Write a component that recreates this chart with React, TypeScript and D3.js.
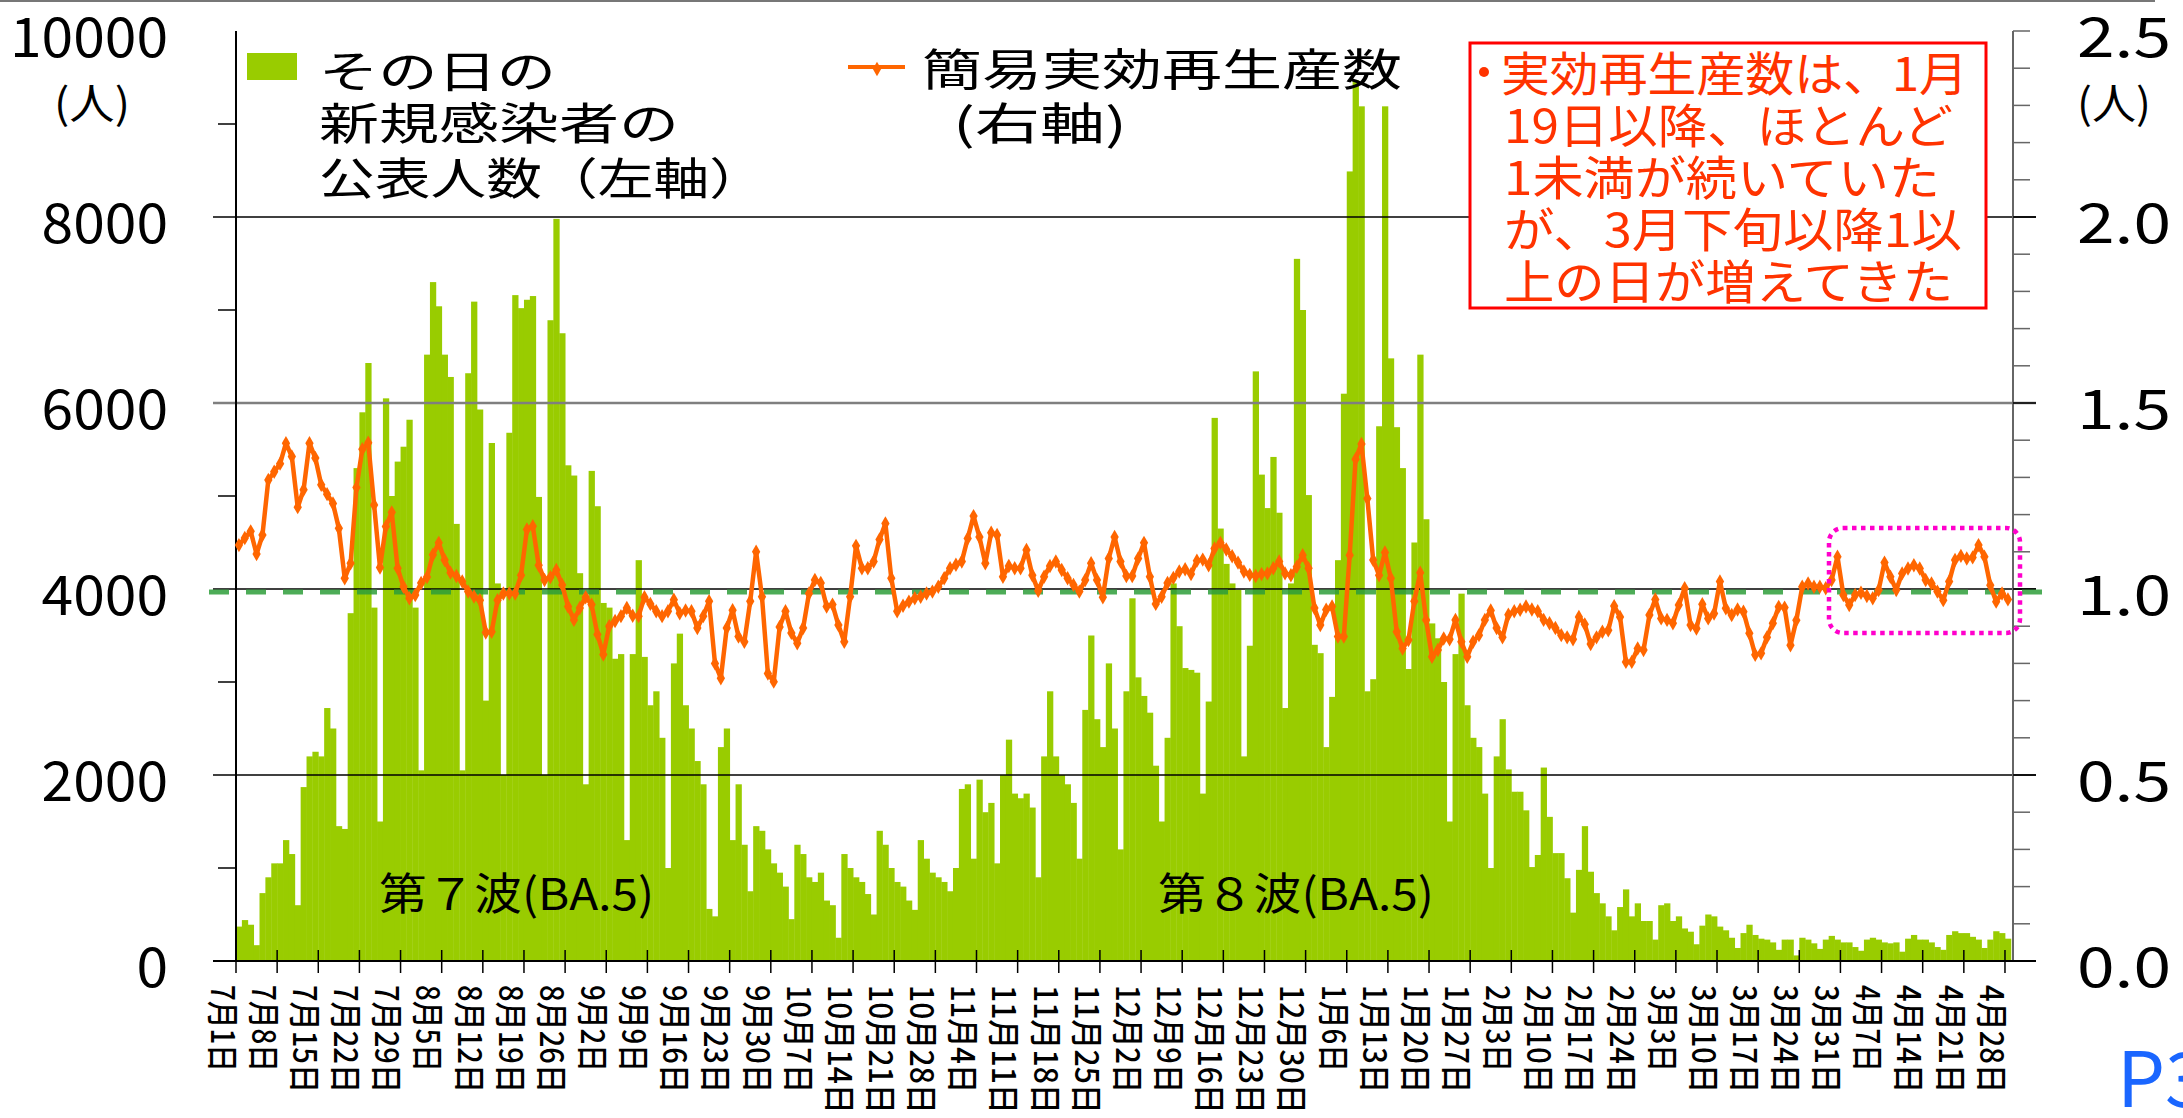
import React from "react";
import * as d3 from "d3";

// daily new cases (left axis), 2022-07-01 .. 2023-04-28
const cases = [
  370, 440, 390, 170, 730, 900, 1050,
  1050, 1300, 1150, 600, 1870, 2200, 2250,
  2200, 2720, 2500, 1450, 1420, 3740, 5300,
  5900, 6430, 3800, 1500, 6050, 5000, 5370,
  5530, 5820, 3800, 2050, 6520, 7300, 7040,
  6520, 6280, 4700, 2050, 6320, 7090, 5930,
  2800, 5570, 4060, 2000, 5680, 7160, 7020,
  7110, 7150, 4990, 2000, 6890, 7980, 6750,
  5330, 5220, 4170, 1900, 5270, 4890, 3850,
  3800, 3250, 3300, 1300, 3300, 4310, 3270,
  2750, 2900, 2400, 1000, 3200, 3520, 2750,
  2500, 2150, 1900, 560, 480, 2300, 2500,
  1300, 1900, 1250, 750, 1450, 1400, 1200,
  1050, 950, 800, 450, 1250, 1150, 900,
  850, 950, 650, 600, 250, 1150, 1000,
  900, 850, 720, 500, 1400, 1250, 1000,
  850, 800, 650, 550, 1300, 1100, 950,
  900, 850, 750, 1000, 1850, 1900, 1100,
  1950, 1600, 1700, 1050, 2000, 2380, 1800,
  1750, 1800, 1650, 900, 2200, 2900, 2200,
  2000, 1900, 1700, 1100, 2700, 3500, 2600,
  2300, 3200, 2500, 1200, 2900, 3900, 3050,
  2850, 2670, 2100, 1500, 2400, 4060, 3600,
  3150, 3130, 3100, 1800, 2790, 5840, 4650,
  4270, 4060, 3990, 2200, 3390, 6340, 5230,
  4870, 5420, 4820, 2720, 4060, 7550, 7000,
  5010, 3400, 3310, 2300, 2840, 4310, 6100,
  8490, 9470, 9190, 2900, 3030, 5750, 9190,
  6480, 5740, 5300, 3140, 4500, 6520, 4750,
  3630, 3470, 3000, 1500, 3300, 3950, 2750,
  2400, 2300, 1800, 1000, 2200, 2600, 2060,
  1820, 1820, 1620, 1010, 1140, 2080, 1550,
  1160, 1160, 890, 520, 980, 1450, 960,
  730, 620, 480, 330, 580, 770, 480,
  620, 430, 430, 230, 600, 620, 430,
  480, 350, 315, 180, 380, 500, 480,
  370, 330, 250, 140, 300, 390, 280,
  240, 230, 200, 120, 230, 230, 60,
  250, 230, 190, 130, 230, 270, 230,
  200, 200, 150, 110, 230, 250, 230,
  200, 190, 200, 100, 240, 280, 230,
  230, 200, 150, 120, 280, 320, 300,
  300, 260, 230, 140, 230, 320, 300,
  240,
];

// simple effective reproduction number (right axis)
const rt = [
  1.118, 1.137, 1.155, 1.094, 1.145, 1.293, 1.315, 1.337, 1.392, 1.356,
  1.22, 1.267, 1.392, 1.352, 1.28, 1.255, 1.23, 1.163, 1.029, 1.069,
  1.273, 1.376, 1.393, 1.226, 1.058, 1.168, 1.206, 1.056, 1.006, 0.975,
  0.984, 1.016, 1.032, 1.092, 1.124, 1.078, 1.044, 1.035, 1.02, 0.993,
  0.98, 0.97, 0.883, 0.885, 0.97, 0.988, 0.988, 0.988, 1.037, 1.16,
  1.169, 1.064, 1.024, 1.032, 1.051, 1.011, 0.953, 0.917, 0.949, 0.978,
  0.958, 0.878, 0.824, 0.9, 0.914, 0.927, 0.949, 0.928, 0.927, 0.978,
  0.96, 0.94, 0.927, 0.94, 0.971, 0.935, 0.942, 0.94, 0.895, 0.927,
  0.967, 0.8, 0.76, 0.895, 0.943, 0.872, 0.858, 0.967, 1.1, 0.979,
  0.773, 0.751, 0.898, 0.94, 0.882, 0.854, 0.895, 0.988, 1.024, 1.016,
  0.953, 0.958, 0.903, 0.858, 0.979, 1.116, 1.056, 1.056, 1.074, 1.133,
  1.176, 1.029, 0.94, 0.955, 0.966, 0.975, 0.979, 0.988, 0.993, 1.006,
  1.029, 1.056, 1.065, 1.074, 1.136, 1.196, 1.14, 1.069, 1.151, 1.145,
  1.033, 1.062, 1.056, 1.056, 1.105, 1.037, 0.995, 1.033, 1.062, 1.074,
  1.051, 1.029, 1.011, 0.993, 1.024, 1.069, 1.024, 0.978, 1.082, 1.14,
  1.074, 1.035, 1.035, 1.082, 1.124, 1.033, 0.96, 0.979, 1.016, 1.03,
  1.047, 1.053, 1.04, 1.076, 1.079, 1.064, 1.109, 1.124, 1.106, 1.088,
  1.071, 1.047, 1.038, 1.035, 1.04, 1.042, 1.056, 1.074, 1.042, 1.037,
  1.06, 1.091, 1.056, 0.949, 0.903, 0.944, 0.953, 0.872, 0.872, 1.091,
  1.349, 1.39, 1.243, 1.078, 1.037, 1.098, 1.029, 0.885, 0.84, 0.863,
  0.967, 1.044, 0.917, 0.818, 0.836, 0.867, 0.865, 0.917, 0.858, 0.818,
  0.858, 0.876, 0.917, 0.942, 0.895, 0.87, 0.931, 0.94, 0.944, 0.953,
  0.945, 0.94, 0.917, 0.908, 0.895, 0.876, 0.87, 0.865, 0.925, 0.905,
  0.852, 0.87, 0.885, 0.889, 0.954, 0.925, 0.804, 0.804, 0.84, 0.836,
  0.93, 0.972, 0.921, 0.917, 0.908, 0.957, 1.002, 0.903, 0.894, 0.959,
  0.921, 0.934, 1.02, 0.948, 0.93, 0.945, 0.939, 0.881, 0.823, 0.827,
  0.87, 0.908, 0.952, 0.95, 0.849, 0.916, 1.006, 1.015, 1.006, 1.006,
  1.002, 1.024, 1.087, 0.984, 0.957, 0.984, 0.99, 0.981, 0.975, 0.997,
  1.071, 1.033, 0.997, 1.042, 1.055, 1.064, 1.055, 1.024, 1.015, 0.993,
  0.97, 1.02, 1.078, 1.089, 1.082, 1.085, 1.118, 1.087, 1.01, 0.966,
  0.988, 0.972,
];

const tickLabels = [
  "7月1日", "7月8日", "7月15日", "7月22日", "7月29日", "8月5日", "8月12日",
  "8月19日", "8月26日", "9月2日", "9月9日", "9月16日", "9月23日", "9月30日",
  "10月7日", "10月14日", "10月21日", "10月28日", "11月4日", "11月11日",
  "11月18日", "11月25日", "12月2日", "12月9日", "12月16日", "12月23日",
  "12月30日", "1月6日", "1月13日", "1月20日", "1月27日", "2月3日", "2月10日",
  "2月17日", "2月24日", "3月3日", "3月10日", "3月17日", "3月24日", "3月31日",
  "4月7日", "4月14日", "4月21日", "4月28日",
];

const leftTicks = [0, 2000, 4000, 6000, 8000, 10000];
const rightTicks = [0, 0.5, 1, 1.5, 2, 2.5];

const noteLines = [
  "実効再生産数は、1月",
  "19日以降、ほとんど",
  "1未満が続いていた",
  "が、3月下旬以降1以",
  "上の日が増えてきた",
];

const FONT = "'Noto Sans CJK JP', 'Noto Sans', sans-serif";
const GREEN = "#99cc00";
const ORANGE = "#ff6600";

export default function App() {
  const W = 2183;
  const H = 1118;
  const left = 236;
  const right = 2013;
  const top = 31;
  const bottom = 961;

  const days = d3.timeDay.range(new Date(2022, 6, 1), new Date(2023, 3, 29));
  const x = d3
    .scaleBand<number>()
    .domain(days.map((d, i) => i))
    .range([left, left + days.length * 5.877])
    .padding(0);
  const bw = x.bandwidth();
  const yL = d3.scaleLinear().domain([0, 10000]).range([bottom, top]);
  const yR = d3.scaleLinear().domain([0, 2.5]).range([bottom, top]);

  const rtLine = d3
    .line<number>()
    .x((d, i) => (x(i) as number) + bw / 2)
    .y((d) => yR(d));
  const diamond = d3.symbol().type(d3.symbolDiamond).size(60)();

  const tickIdx = d3.range(0, days.length, 7);

  const labelLen = (s: string) => {
    const digits = (s.match(/[0-9]/g) || []).length;
    return digits * 21 + (s.length - digits) * 22.5;
  };

  return (
    <svg
      width={W}
      height={H}
      style={{ position: "absolute", left: 0, top: 0, background: "#fff" }}
      fontFamily={FONT}
    >
      <rect x={0} y={0} width={W} height={H} fill="#fff" />
      <line x1={0} x2={2155} y1={1} y2={1} stroke="#777" strokeWidth={2} />

      {/* bars */}
      <g>
        {cases.map((v, i) => (
          <rect
            key={i}
            x={x(i)}
            y={yL(v)}
            width={bw + 0.4}
            height={bottom - yL(v)}
            fill={GREEN}
          />
        ))}
      </g>

      {/* grid lines */}
      {[2000, 4000, 6000, 8000].map((v) => (
        <line
          key={v}
          x1={213}
          x2={2036}
          y1={yL(v)}
          y2={yL(v)}
          stroke={v === 6000 ? "#7f7f7f" : "#000"}
          strokeWidth={v === 6000 ? 2.5 : 1.5}
        />
      ))}

      {/* left axis */}
      <line x1={left} x2={left} y1={top} y2={bottom} stroke="#000" strokeWidth={2} />
      {d3.range(1000, 10000, 2000).map((v) => (
        <line key={v} x1={218} x2={left} y1={yL(v)} y2={yL(v)} stroke="#000" strokeWidth={1.5} />
      ))}
      {leftTicks.map((v) => (
        <text
          key={v}
          x={168}
          y={yL(v) + 2}
          textAnchor="end"
          dominantBaseline="central"
          fontSize={54}
          textLength={String(v).length * 31.6}
          lengthAdjust="spacingAndGlyphs"
        >
          {v}
        </text>
      ))}
      <text x={54} y={100} dominantBaseline="central" fontSize={42} textLength={76} lengthAdjust="spacingAndGlyphs">
        (人)
      </text>

      {/* right axis */}
      <line x1={right} x2={right} y1={top} y2={bottom} stroke="#666" strokeWidth={2} />
      {d3.range(0, 26).map((k) => (
        <line
          key={k}
          x1={right}
          x2={k % 5 === 0 && k > 0 && k < 25 ? 2036 : 2030}
          y1={yR(k / 10)}
          y2={yR(k / 10)}
          stroke={k % 5 === 0 && k > 0 && k < 25 ? "#000" : "#666"}
          strokeWidth={1.5}
        />
      ))}
      {rightTicks.map((v) => (
        <text
          key={v}
          x={2077}
          y={yR(v) + 2}
          dominantBaseline="central"
          fontSize={54}
          textLength={94}
          lengthAdjust="spacingAndGlyphs"
        >
          {v.toFixed(1)}
        </text>
      ))}
      <text x={2077} y={100} dominantBaseline="central" fontSize={42} textLength={74} lengthAdjust="spacingAndGlyphs">
        (人)
      </text>

      {/* x axis */}
      <line x1={213} x2={2036} y1={bottom} y2={bottom} stroke="#000" strokeWidth={2} />
      {tickIdx.map((i, k) => {
        const tx = x(i) as number;
        const lab = tickLabels[k];
        return (
          <g key={i}>
            <line x1={tx} x2={tx} y1={950} y2={973} stroke="#000" strokeWidth={1.5} />
            <text
              transform={`translate(${tx},985) rotate(90) scale(1,1.4)`}
              x={0}
              y={18}
              fontSize={23}
              fontWeight={500}
              textLength={labelLen(lab)}
              lengthAdjust="spacingAndGlyphs"
            >
              {lab}
            </text>
          </g>
        );
      })}

      {/* reference line at 1.0 */}
      <line
        x1={209}
        x2={2042}
        y1={yR(1) + 3}
        y2={yR(1) + 3}
        stroke="#2e9e3a"
        strokeWidth={5}
        strokeDasharray="20 17"
        opacity={0.85}
      />

      {/* Rt line */}
      <path d={rtLine(rt) || ""} fill="none" stroke={ORANGE} strokeWidth={4.5} strokeLinejoin="round" />
      {rt.map((d, i) => (
        <path
          key={i}
          d={diamond || ""}
          transform={`translate(${(x(i) as number) + bw / 2},${yR(d)})`}
          fill={ORANGE}
        />
      ))}

      {/* wave labels */}
      <text x={379} y={891} dominantBaseline="central" fontSize={44} textLength={275} lengthAdjust="spacingAndGlyphs">
        第７波(BA.5)
      </text>
      <text x={1158} y={891} dominantBaseline="central" fontSize={44} textLength={276} lengthAdjust="spacingAndGlyphs">
        第８波(BA.5)
      </text>

      {/* legend */}
      <rect x={247} y={53} width={50} height={27} fill={GREEN} />
      <text x={319} y={69} dominantBaseline="central" fontSize={44} textLength={237} lengthAdjust="spacingAndGlyphs">
        その日の
      </text>
      <text x={319} y={121} dominantBaseline="central" fontSize={44} textLength={360} lengthAdjust="spacingAndGlyphs">
        新規感染者の
      </text>
      <text x={319} y={176} dominantBaseline="central" fontSize={44} textLength={446} lengthAdjust="spacingAndGlyphs">
        公表人数（左軸）
      </text>

      <line x1={848} x2={905} y1={67} y2={67} stroke={ORANGE} strokeWidth={4} />
      <path d={diamond || ""} transform="translate(877,69)" fill={ORANGE} />
      <text x={922} y={67} dominantBaseline="central" fontSize={44} textLength={480} lengthAdjust="spacingAndGlyphs">
        簡易実効再生産数
      </text>
      <text x={953} y={121} dominantBaseline="central" fontSize={44} textLength={174} lengthAdjust="spacingAndGlyphs">
        (右軸)
      </text>

      {/* note box */}
      <rect x={1470} y={43} width={516} height={265} fill="#fff" stroke="#ff0000" strokeWidth={3} />
      <circle cx={1484} cy={72} r={5} fill="#ff3300" />
      {noteLines.map((s, i) => (
        <text
          key={i}
          x={i === 0 ? 1501 : 1504}
          y={70 + i * 52.2}
          dominantBaseline="central"
          fontSize={47}
          fill="#ff3300"
          textLength={[467, 449, 436, 458, 449][i]}
          lengthAdjust="spacingAndGlyphs"
        >
          {s}
        </text>
      ))}

      {/* highlight box */}
      <rect
        x={1829}
        y={528}
        width={191}
        height={105}
        rx={14}
        fill="none"
        stroke="#ff00cc"
        strokeWidth={4.5}
        strokeDasharray="4.5 4.5"
      />

      <text x={2117} y={1107} fontSize={76} fill="#1a66ff">
        P3
      </text>
    </svg>
  );
}
